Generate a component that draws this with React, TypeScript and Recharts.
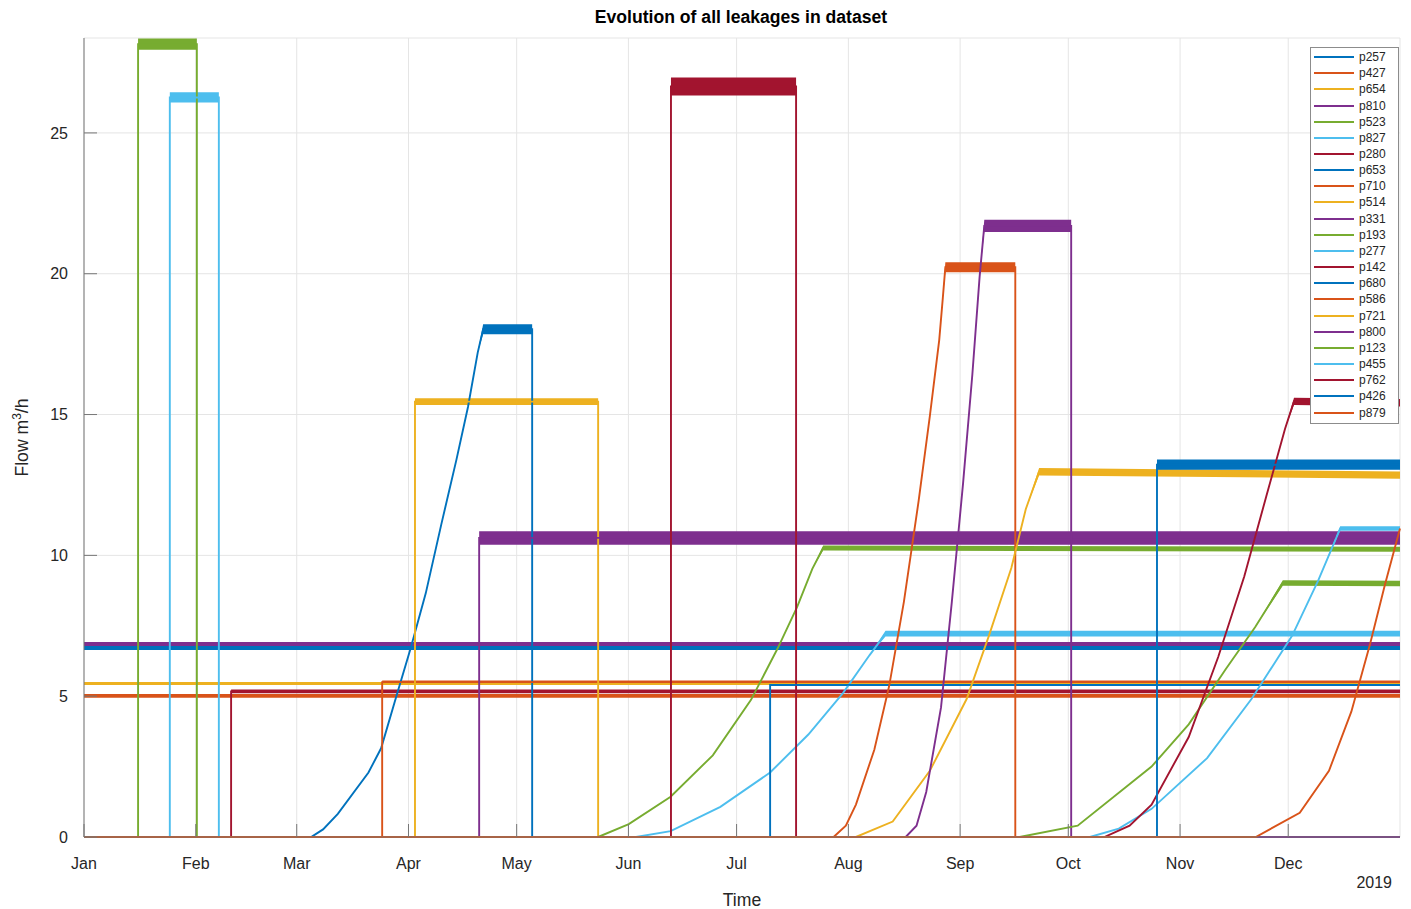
import React from 'react';
import { ComposedChart, Line, Area, XAxis, YAxis, CartesianGrid, Legend } from 'recharts';

// [day of year, flow m3/h, noise half-band (optional)]
type Pt = [number, number, number?];

const monthTicks = [0, 31, 59, 90, 120, 151, 181, 212, 243, 273, 304, 334];
const monthLabels = ['Jan', 'Feb', 'Mar', 'Apr', 'May', 'Jun', 'Jul', 'Aug', 'Sep', 'Oct', 'Nov', 'Dec'];
const flowTicks = [0, 5, 10, 15, 20, 25];

const leakNames = [
    'p257', 'p427', 'p654', 'p810', 'p523', 'p827', 'p280', 'p653', 'p710', 'p514', 'p331', 'p193',
    'p277', 'p142', 'p680', 'p586', 'p721', 'p800', 'p123', 'p455', 'p762', 'p426', 'p879',
];

const p257: Pt[] = [[0, 6.73, 0.09], [365, 6.73, 0.09]];
const p427: Pt[] = [[0, 5.01, 0.07], [365, 5.01, 0.07]];
const p654: Pt[] = [[0, 5.45, 0.05], [365, 5.45, 0.05]];
const p810: Pt[] = [[0, 6.85, 0.07], [365, 6.85, 0.07]];
const p523: Pt[] = [[0, 0], [15.0, 0], [15.0, 28.15, 0.2], [31.3, 28.15, 0.2], [31.3, 0], [365, 0]];
const p827: Pt[] = [[0, 0], [23.8, 0], [23.8, 26.26, 0.18], [37.4, 26.26, 0.18], [37.4, 0], [365, 0]];
const p280: Pt[] = [[0, 0], [40.8, 0], [40.8, 5.17, 0.07], [365, 5.17, 0.07]];
const p653: Pt[] = [
    [0, 0], [63, 0], [66.3, 0.27], [70.4, 0.82], [78.9, 2.29], [82.4, 3.15], [86.9, 5.11], [90.6, 6.7],
    [94.8, 8.66], [99.1, 11.1], [103.3, 13.4], [106.5, 15.27], [109.2, 17.2], [110.7, 18.03, 0.18],
    [124.3, 18.03, 0.18], [124.3, 0], [365, 0],
];
const p710: Pt[] = [[0, 0], [82.7, 0], [82.7, 5.5, 0.06], [365, 5.5, 0.06]];
const p514: Pt[] = [[0, 0], [91.8, 0], [91.8, 15.46, 0.12], [142.6, 15.46, 0.12], [142.6, 0], [365, 0]];
const p331: Pt[] = [[0, 0], [109.6, 0], [109.6, 10.62, 0.24], [365, 10.62, 0.24]];
const p193: Pt[] = [
    [0, 0], [142.6, 0], [151.1, 0.46], [162.7, 1.43], [174.4, 2.9], [185.0, 4.87], [192.4, 6.7],
    [197.8, 8.17], [202.0, 9.52], [205.0, 10.26, 0.09], [365, 10.22, 0.09],
];
const p277: Pt[] = [
    [0, 0], [153.1, 0], [162.7, 0.21], [176.5, 1.07], [190.3, 2.29], [200.9, 3.64], [210.5, 5.11],
    [217.9, 6.46], [222.3, 7.22, 0.1], [365, 7.22, 0.1],
];
const p142: Pt[] = [[0, 0], [162.8, 0], [162.8, 26.65, 0.32], [197.5, 26.65, 0.32], [197.5, 0], [365, 0]];
const p680: Pt[] = [[0, 0], [190.3, 0], [190.3, 5.4, 0.04], [365, 5.4, 0.04]];
const p586: Pt[] = [
    [0, 0], [207.9, 0], [211.3, 0.4], [214.1, 1.15], [219.2, 3.1], [223.3, 5.35], [227.4, 8.35],
    [231.5, 11.94], [234.6, 14.94], [237.2, 17.64], [238.2, 19.14], [238.9, 20.23, 0.18],
    [258.3, 20.23, 0.18], [258.3, 0], [365, 0],
];
const p721: Pt[] = [
    [0, 0], [214.1, 0], [224.3, 0.55], [234.6, 2.35], [244.8, 4.9], [251.0, 7.15], [257.2, 9.55],
    [261.2, 11.64], [264.9, 12.97, 0.13], [365, 12.85, 0.13],
];
const p800: Pt[] = [
    [0, 0], [227.9, 0], [230.9, 0.4], [233.6, 1.6], [237.7, 4.6], [240.7, 8.35], [243.8, 12.54],
    [246.4, 16.44], [248.4, 19.89], [249.7, 21.7, 0.22], [273.8, 21.7, 0.22], [273.8, 0], [365, 0],
];
const p123: Pt[] = [
    [0, 0], [259.5, 0], [275.6, 0.4], [296.1, 2.5], [306.4, 4.0], [316.6, 5.95], [324.8, 7.45],
    [332.5, 9.02, 0.1], [365, 9.0, 0.1],
];
const p455: Pt[] = [
    [0, 0], [279, 0], [287, 0.3], [296.1, 1.0], [311.5, 2.8], [323.8, 4.9], [335.1, 7.15], [342.3, 9.1],
    [348.4, 10.95, 0.08], [365, 10.95, 0.08],
];
const p762: Pt[] = [
    [0, 0], [283, 0], [290, 0.4], [296.1, 1.15], [306.4, 3.55], [314.6, 6.4], [321.8, 9.25],
    [327.9, 12.09], [333.1, 14.49], [335.6, 15.47, 0.13], [365, 15.42, 0.13],
];
const p426: Pt[] = [[0, 0], [297.6, 0], [297.6, 13.22, 0.18], [365, 13.22, 0.18]];
const p879: Pt[] = [
    [0, 0], [325, 0], [337.2, 0.86], [345.3, 2.35], [351.5, 4.45], [356.7, 6.85], [360.8, 8.95], [365, 10.95],
];

const leakSeries = [
    p257, p427, p654, p810, p523, p827, p280, p653, p710, p514, p331, p193,
    p277, p142, p680, p586, p721, p800, p123, p455, p762, p426, p879,
];

// matlab default line colour order
const palette = ['#0072BD', '#D95319', '#EDB120', '#7E2F8E', '#77AC30', '#4DBEEE', '#A2142F'];

const axisColor = '#767676';
const textColor = '#262626';
const font = '"Liberation Sans", Arial, Helvetica, sans-serif';

function renderLegend() {
    return (
        <div style={{ width: 89, boxSizing: 'border-box', border: '1px solid #8c8c8c', background: '#fff', padding: '1px 0 2px 0' }}>
            {leakNames.map((name, i) => (
                <div key={name} style={{ display: 'flex', alignItems: 'center', height: 16.16 }}>
                    <div style={{ width: 40, height: 0, borderTop: `2px solid ${palette[i % palette.length]}`, marginLeft: 3, marginRight: 5 }} />
                    <span style={{ fontSize: 12, color: textColor, lineHeight: '12px' }}>{name}</span>
                </div>
            ))}
        </div>
    );
}

export default function App() {
    return (
        <div style={{ position: 'absolute', left: 0, top: 0, width: 1411, height: 909, background: '#fff', fontFamily: font }}>
            <ComposedChart width={1411} height={909} margin={{ top: 38, right: 11, left: 0, bottom: 0 }}>
                <CartesianGrid stroke="#e5e5e5" />
                <XAxis
                    type="number"
                    dataKey="day"
                    domain={[0, 365]}
                    ticks={monthTicks}
                    interval={0}
                    tickFormatter={(v) => monthLabels[monthTicks.indexOf(v)]}
                    height={72}
                    tickSize={-13}
                    tickMargin={34}
                    axisLine={{ stroke: axisColor }}
                    tickLine={{ stroke: axisColor }}
                    tick={{ fontSize: 16, fill: textColor }}
                />
                <XAxis
                    xAxisId="top"
                    orientation="top"
                    type="number"
                    domain={[0, 365]}
                    ticks={monthTicks}
                    interval={0}
                    height={0}
                    tickSize={-13}
                    tick={false}
                    axisLine={{ stroke: axisColor }}
                    tickLine={{ stroke: axisColor }}
                />
                <YAxis
                    type="number"
                    domain={[0, 28.37]}
                    ticks={flowTicks}
                    interval={0}
                    width={84}
                    tickSize={-13}
                    tickMargin={29}
                    axisLine={{ stroke: axisColor }}
                    tickLine={{ stroke: axisColor }}
                    tick={{ fontSize: 16, fill: textColor }}
                />
                <YAxis
                    yAxisId="right"
                    orientation="right"
                    type="number"
                    domain={[0, 28.37]}
                    ticks={flowTicks}
                    interval={0}
                    width={0}
                    tickSize={-13}
                    tick={false}
                    axisLine={{ stroke: axisColor }}
                    tickLine={{ stroke: axisColor }}
                />
                {leakSeries.map((pts, i) => {
                    const data = pts.map(([day, flow, noise = 0]) => ({ day, flow, band: [flow - noise, flow + noise] }));
                    const color = palette[i % palette.length];
                    return (
                        <React.Fragment key={leakNames[i]}>
                            <Area
                                data={data}
                                dataKey="band"
                                type="linear"
                                stroke="none"
                                fill={color}
                                fillOpacity={1}
                                legendType="none"
                                isAnimationActive={false}
                            />
                            <Line
                                data={data}
                                dataKey="flow"
                                name={leakNames[i]}
                                type="linear"
                                stroke={color}
                                strokeWidth={1.9}
                                dot={false}
                                activeDot={false}
                                isAnimationActive={false}
                            />
                        </React.Fragment>
                    );
                })}
                <Legend
                    layout="vertical"
                    align="center"
                    verticalAlign="middle"
                    content={renderLegend}
                    wrapperStyle={{ left: 1310, top: 47, width: 'auto', height: 'auto' }}
                />
            </ComposedChart>
            <svg width={1411} height={909} style={{ position: 'absolute', left: 0, top: 0, pointerEvents: 'none' }}>
                <text x={741} y={23} textAnchor="middle" fontWeight="bold" fontSize={17.6} fill="#000">
                    Evolution of all leakages in dataset
                </text>
                <text x={742} y={906} textAnchor="middle" fontSize={17.6} fill={textColor}>Time</text>
                <text transform="translate(28,437.5) rotate(-90)" textAnchor="middle" fontSize={17.6} fill={textColor}>
                    Flow m<tspan dy={-7} fontSize={12}>3</tspan><tspan dy={7}>/h</tspan>
                </text>
                <text x={1392} y={888} textAnchor="end" fontSize={16} fill={textColor}>2019</text>
            </svg>
        </div>
    );
}
